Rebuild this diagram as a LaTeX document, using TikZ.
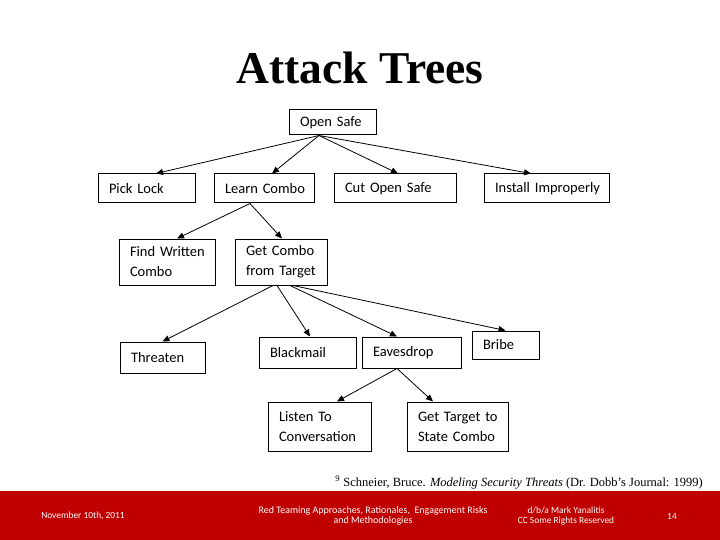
\documentclass[tikz,border=0pt]{standalone}
\usepackage{fontspec}
\setmainfont{Liberation Serif}
\newfontfamily\boxfont{Carlito}
\usetikzlibrary{arrows.meta}
\definecolor{footred}{HTML}{C00000}
\begin{document}
\begin{tikzpicture}[x=1pt,y=-1pt,
  box/.style={draw, line width=1pt, inner xsep=11pt, inner ysep=0pt, align=left,
    font=\boxfont\fontsize{14.5}{20}\selectfont},
  arr/.style={line width=0.8pt, -{Triangle[length=7pt,width=6pt]}},
  foot/.style={text=white, font=\boxfont\fontsize{9.4}{10.5}\selectfont, align=center}]
\useasboundingbox (0,0) rectangle (720,540);
\fill[footred] (0,491) rectangle (720,540);

% title
\node[font=\bfseries\fontsize{45.5}{50}\selectfont] (title) at (360,68) {Attack Trees};

% boxes
\node[box, text width=65pt, minimum height=25pt] (open) at (332.5,122.5) {\mbox{Open Safe}};
\node[box, text width=75pt, minimum height=29pt] (picklock) at (146.5,188.5) {\mbox{Pick Lock}};
\node[box, text width=78pt, minimum height=29pt] (learn) at (264,188.5) {\mbox{Learn Combo}};
\node[box, text width=100pt, minimum height=29pt] (cut) at (395,188.5) {\mbox{Cut Open Safe}};
\node[box, text width=103pt, minimum height=29pt] (install) at (546.5,188.5) {\mbox{Install Improperly}};
\node[box, text width=74pt, minimum height=46pt] (findw) at (167,262) {\mbox{Find Written}\\\mbox{Combo}};
\node[box, text width=70pt, minimum height=46pt] (getcombo) at (281,262) {\mbox{Get Combo}\\\mbox{from Target}};
\node[box, text width=63pt, minimum height=31pt] (threaten) at (162.5,357.5) {\mbox{Threaten}};
\node[box, text width=75pt, minimum height=31pt] (blackmail) at (307.5,352.5) {\mbox{Blackmail}};
\node[box, text width=77pt, minimum height=31pt] (eaves) at (411.5,352.5) {\mbox{Eavesdrop}};
\node[box, text width=45pt, minimum height=28pt] (bribe) at (505.5,345) {\mbox{Bribe}};
\node[box, text width=81pt, minimum height=49pt] (listen) at (319.5,426.5) {\mbox{Listen To}\\\mbox{Conversation}};
\node[box, text width=79pt, minimum height=49pt] (gettarget) at (457.5,426.5) {\mbox{Get Target to}\\\mbox{State Combo}};

% connectors
\draw[arr] ([xshift=-13.5pt]open.south) -- ([xshift=9.5pt]picklock.north);
\draw[arr] ([xshift=-13.5pt]open.south) -- ([xshift=8pt]learn.north);
\draw[arr] ([xshift=-13.5pt]open.south) -- ([xshift=3pt]cut.north);
\draw[arr] ([xshift=-13.5pt]open.south) -- ([xshift=-15.5pt]install.north);

\draw[arr] ([xshift=-14pt]learn.south) -- ([xshift=10pt]findw.north);
\draw[arr] ([xshift=-14pt]learn.south) -- ([xshift=1pt]getcombo.north);

\draw[arr] ([xshift=-8pt]getcombo.south) -- (threaten.north);
\draw[arr] ([xshift=-4pt]getcombo.south) -- ([xshift=2.5pt]blackmail.north);
\draw[arr] ([xshift=9pt]getcombo.south) -- ([xshift=-14.5pt]eaves.north);
\draw[arr] ([xshift=12pt]getcombo.south) -- (bribe.north);

\draw[arr] ([xshift=-14.5pt]eaves.south) -- ([xshift=17.5pt]listen.north);
\draw[arr] ([xshift=-14.5pt]eaves.south) -- ([xshift=-24.5pt]gettarget.north);

% footnote
\node[anchor=base east, inner sep=0pt, font=\fontsize{12.5}{14}\selectfont] (fn) at (703,486)
  {\textsuperscript{9} Schneier, Bruce. \textit{Modeling Security Threats} (Dr. Dobb's Journal: 1999)};

% footer
\node[foot] (date) at (83,516) {November 10th, 2011};
\node[foot, font=\boxfont\fontsize{10}{10.5}\selectfont] (course) at (373,516) {Red Teaming Approaches, Rationales,\ \ Engagement Risks\\and Methodologies};
\node[foot] (author) at (566,516) {d/b/a Mark Yanalitis\\CC Some Rights Reserved};
\node[foot] (page) at (672,516) {14};
\end{tikzpicture}
\end{document}
